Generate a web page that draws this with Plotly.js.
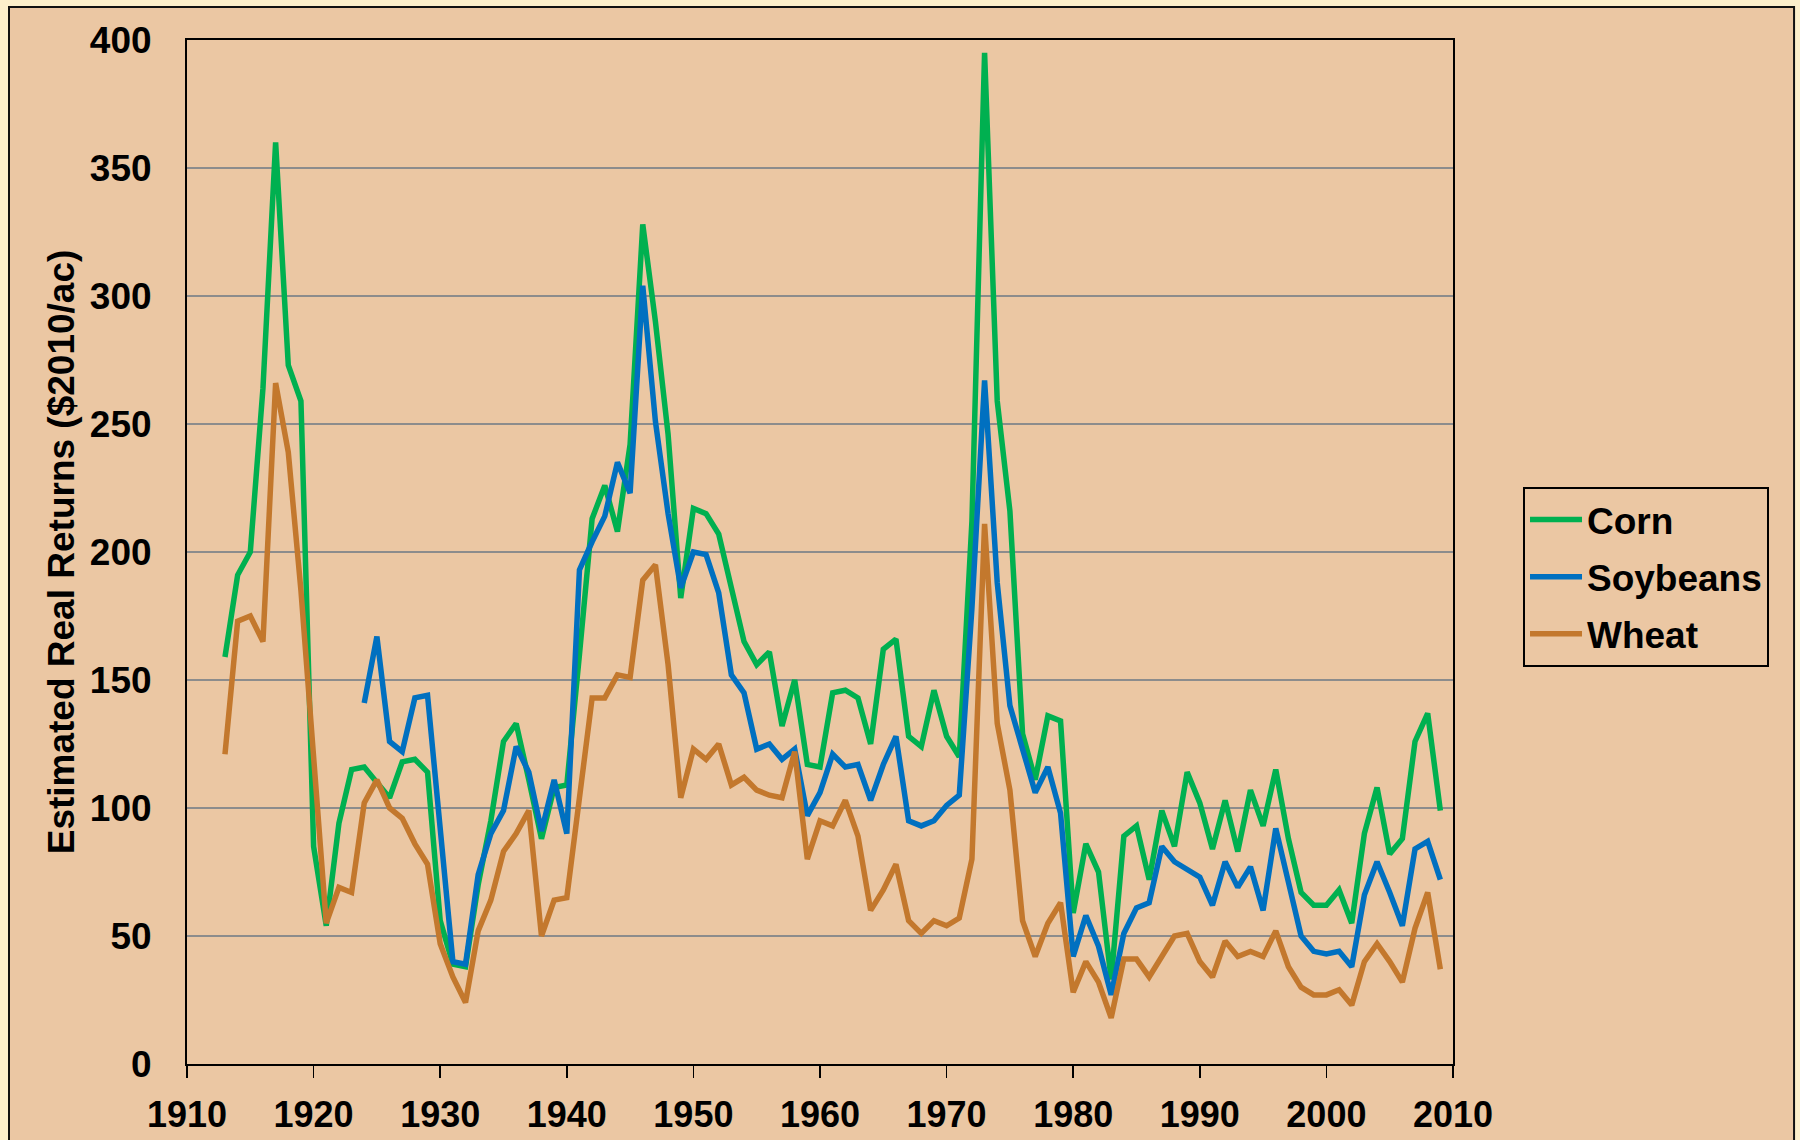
<!DOCTYPE html>
<html>
<head>
<meta charset="utf-8">
<script src="https://cdn.plot.ly/plotly-3.0.1.min.js"></script>
<style>html,body{margin:0;padding:0;background:#FCEFCB;}#chart{width:1800px;height:1140px;}</style>
</head>
<body>
<div id="chart"></div>
<script>
// Years
const years = [];
for (let y = 1913; y <= 2009; y++) years.push(y);
const soyYears = [];
for (let y = 1924; y <= 2009; y++) soyYears.push(y);

// Corn 1913-2009
const corn = [159,191,200,264,360,273,259,85,54,94,
  115,116,110,104,118,119,114,56,39,38,
  70,95,126,133,111,88,108,109,160,213,
  226,208,242,328,290,246,182,217,215,207,
  186,165,156,161,132,150,117,116,145,146,
  143,125,162,166,128,124,146,128,120,212,
  395,259,216,129,111,136,134,59,86,75,
  33,89,93,72,99,85,114,102,84,103,
  83,107,93,115,88,67,62,62,68,55,
  90,108,82,88,126,137,99];

// Soybeans 1924-2009
const soybeans = [141,167,126,122,143,144,92,40,39,74,
  90,99,124,114,91,111,90,193,204,214,
  235,223,304,251,215,186,200,199,184,152,
  145,123,125,119,123,97,106,121,116,117,
  103,117,128,95,93,95,101,105,178,267,
  188,140,123,106,116,98,42,58,46,27,
  51,61,63,85,79,76,73,62,79,69,
  77,60,92,71,50,44,43,44,38,66,
  79,67,54,84,87,72];

// Wheat 1913-2009
const wheat = [121,173,175,165,266,239,185,120,55,69,
  67,102,111,100,96,86,78,47,34,24,
  52,64,83,90,99,50,64,65,106,143,
  143,152,151,189,195,156,104,123,119,125,
  109,112,107,105,104,122,80,95,93,103,
  89,60,68,78,56,51,56,54,57,80,
  211,133,107,56,42,55,63,28,40,32,
  18,41,41,34,42,50,51,40,34,48,
  42,44,42,52,38,30,27,27,29,23,
  40,47,40,32,53,67,37];

const seriesNames = ["Corn", "Soybeans", "Wheat"];
const seriesColors = ["#00B050", "#0070C0", "#C3782D"];
const xTicks = [1910,1920,1930,1940,1950,1960,1970,1980,1990,2000,2010];
const yTicks = [0,50,100,150,200,250,300,350,400];

const FONT = "Arial, 'Liberation Sans', sans-serif";

const traces = [
  {x: years, y: corn, name: seriesNames[0]},
  {x: soyYears, y: soybeans, name: seriesNames[1]},
  {x: years, y: wheat, name: seriesNames[2]}
].map((t, i) => Object.assign(t, {
  type: "scatter", mode: "lines",
  line: {color: seriesColors[i], width: 5.5, shape: "linear"},
  legendgroup: "g" + i,
  hoverinfo: "x+y+name"
}));

const layout = {
  width: 1800, height: 1140,
  margin: {l: 187, r: 347, t: 40, b: 76},
  paper_bgcolor: "#FCEFCB",
  plot_bgcolor: "rgba(0,0,0,0)",
  font: {family: FONT, color: "#000", size: 34},
  showlegend: true,
  legend: {
    x: 1.0553, y: 0.5635, xanchor: "left", yanchor: "top",
    bgcolor: "rgba(0,0,0,0)", bordercolor: "#000", borderwidth: 2,
    font: {family: FONT, size: 37, color: "#000", weight: "bold"},
    tracegroupgap: 6, traceorder: "grouped", itemwidth: 52
  },
  xaxis: {
    range: [1910, 2010], tickmode: "array", tickvals: xTicks,
    ticktext: xTicks.map(String),
    showgrid: false, zeroline: false,
    showline: true, linecolor: "#000", linewidth: 2, mirror: true,
    ticks: "outside", ticklen: 12, tickwidth: 1.5, tickcolor: "#000",
    tickfont: {family: FONT, size: 36, weight: "bold", color: "#000"},
    ticklabelstandoff: 6
  },
  yaxis: {
    range: [0, 400], tickmode: "array", tickvals: yTicks,
    ticktext: yTicks.map(String),
    showgrid: true, gridcolor: "#8C8C8C", gridwidth: 1.5,
    zeroline: false,
    showline: true, linecolor: "#000", linewidth: 2, mirror: true,
    ticks: "",
    tickfont: {family: FONT, size: 37, weight: "bold", color: "#000"},
    ticklabelstandoff: 26,
    title: {text: "Estimated Real Returns ($2010/ac)", standoff: 4,
      font: {family: FONT, size: 37, weight: "bold", color: "#000"}}
  },
  shapes: [
    {type: "rect", xref: "paper", yref: "paper", layer: "below",
     x0: -0.1406, x1: 1.2694, y0: -0.1, y1: 1.0322,
     fillcolor: "#EBC7A3", line: {color: "#111", width: 2}}
  ]
};

Plotly.newPlot("chart", traces, layout, {displayModeBar: false, staticPlot: true});
</script>
</body>
</html>
